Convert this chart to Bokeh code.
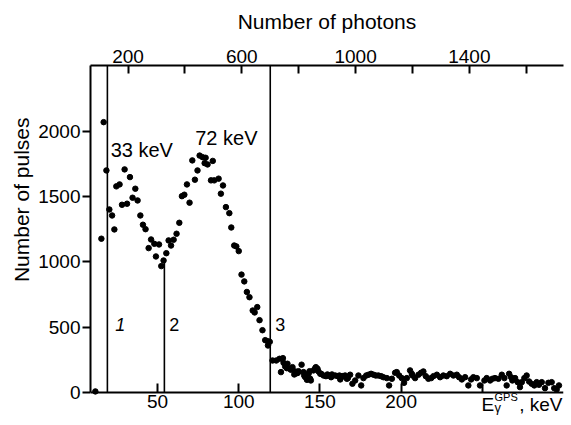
from bokeh.plotting import figure
from bokeh.models import Range1d, LinearAxis, FixedTicker, Label, Title
from bokeh.embed import file_html
from bokeh.resources import INLINE

# ---- data ----
energy_kev = [11.7, 15.4, 16.8, 18.5, 20.3, 22.0, 23.4, 24.6, 26.6, 28.1, 29.7, 31.2, 33.0,
              34.6, 36.3, 37.7, 39.4, 41.0, 42.6, 44.5, 46.0, 48.0, 49.0, 50.9, 52.3, 53.7,
              55.4, 56.8, 58.3, 59.9, 61.7, 63.4, 65.0, 66.5, 68.1, 69.7, 71.4, 73.0, 74.6,
              75.9, 77.7, 79.0, 79.6, 80.8, 82.9, 84.0, 84.9, 87.6, 89.0, 90.3, 92.1, 94.2,
              95.4, 97.2, 98.5, 100.0, 101.7, 103.4, 105.0, 106.6, 108.6, 109.8, 111.4, 112.8,
              114.6, 116.3, 117.8, 118.0, 119.1,
              120.8, 123.1, 125.1, 126.0, 127.2, 127.6, 128.6, 129.6, 130.0, 131.7, 132.1, 133.1,
              134.2, 134.8, 135.8, 136.4, 136.8, 138.7, 139.9, 140.3, 140.9, 142.0, 143.0, 143.6,
              144.0, 144.4, 146.0, 147.1, 147.5, 148.5, 149.1, 150.2, 150.8, 152.2, 153.7, 154.6,
              155.3, 156.9, 157.4, 159.4, 161.0, 162.0, 162.5, 163.9, 164.1, 165.5, 166.6, 167.2,
              168.6, 170.0, 171.7, 173.7, 175.4, 176.8, 178.5, 179.9, 181.5, 183.0, 184.4, 186.0,
              187.7, 189.1, 191.2, 192.6, 194.3, 196.3, 197.3, 198.8, 200.4, 201.8, 203.5, 205.5,
              206.6, 207.0, 208.6, 210.7, 212.3, 213.7, 215.2, 216.8, 218.5, 219.9, 222.0, 224.0,
              226.0, 228.1, 230.2, 232.2, 234.3, 235.7, 237.4, 239.4, 241.4, 243.1, 244.5, 246.6,
              248.6, 251.3, 252.7, 254.8, 256.2, 257.8, 259.9, 262.0, 263.6, 265.0, 266.5, 267.7,
              268.5, 270.2, 271.8, 273.2, 274.3, 275.9, 277.3, 278.8, 280.4, 282.0, 283.5, 284.9,
              286.6, 288.6, 290.7, 292.7, 294.3, 295.8, 297.2]
pulses = [8, 1178, 2071, 1701, 1402, 1356, 1249, 1579, 1594, 1438, 1709, 1446, 1650,
          1492, 1561, 1471, 1356, 1285, 1251, 1106, 1172, 1139, 1042, 1134, 968, 1011,
          1067, 1165, 1126, 1170, 1216, 1300, 1504, 1515, 1594, 1454, 1778, 1630, 1701,
          1815, 1803, 1757, 1798, 1747, 1625, 1774, 1625, 1638, 1523, 1586, 1420, 1374,
          1264, 1126, 1119, 1083, 903, 851, 770, 730, 628, 613, 654, 554,
          477, 401, 393, 360, 388,
          245, 245, 258, 156, 263, 227, 199, 186, 220, 181, 174, 194,
          138, 161, 148, 151, 163, 213, 156, 130, 118, 97, 143, 163,
          105, 92, 169, 186, 194, 182, 161, 143, 143, 130, 125, 138,
          130, 117, 138, 130, 125, 130, 100, 125, 123, 130, 105, 110,
          136, 67, 92, 130, 54, 110, 130, 136, 143, 136, 130, 130,
          125, 117, 110, 54, 105, 151, 156, 130, 110, 74, 110, 169,
          143, 130, 110, 136, 151, 161, 125, 105, 110, 125, 136, 117,
          130, 125, 143, 130, 136, 117, 100, 117, 54, 100, 117, 110,
          54, 92, 110, 92, 105, 110, 105, 136, 110, 54, 143, 117,
          92, 110, 79, 41, 79, 110, 130, 84, 67, 54, 79, 59,
          79, 33, 74, 79, 33, 23, 54]

# window markers (keV) and their upper ends (pulses)
marker_kev = [19.1, 54.2, 119.4]
marker_top = [2505, 1000, 2505]
marker_names = ["1", "2", "3"]
marker_styles = ["italic", "normal", "normal"]

peak_names = ["33 keV", "72 keV"]

bottom_ticks = [50, 100, 150, 200, 250]
left_ticks = [0, 500, 1000, 1500, 2000]
top_ticks = [200, 400, 600, 800, 1000, 1200, 1400, 1600]
top_labels = {200: "200", 400: "", 600: "600", 800: "", 1000: "1000", 1200: "", 1400: "1400", 1600: ""}

FONT = "Liberation Sans"
Y_TOP = 2505

# frame reaches the bottom of the canvas; the energy axis sits at pulses = 0
p = figure(width=571, height=425, output_backend="svg", toolbar_location=None,
           x_range=Range1d(8.7, 300), y_range=Range1d(-253, Y_TOP),
           min_border_left=90, min_border_right=8, min_border_top=65, min_border_bottom=0,
           x_axis_location=None, y_axis_location=None)
p.outline_line_color = None
p.xgrid.visible = False
p.ygrid.visible = False
p.background_fill_color = "white"
p.border_fill_color = "white"

# bottom axis (energy), fixed at pulses = 0
xb = LinearAxis(ticker=FixedTicker(ticks=bottom_ticks), fixed_location=0)
xb.major_label_overrides = {250: ""}
xb.major_tick_in = 9
xb.major_tick_out = 0
xb.minor_tick_line_color = None
xb.axis_line_width = 2
xb.major_tick_line_width = 2
xb.major_label_text_font = FONT
xb.major_label_text_font_size = "19px"
xb.major_label_text_color = "black"
xb.major_label_standoff = 3
p.add_layout(xb, "below")

# left axis (its title is placed separately so it can sit higher, as in the original)
yl = LinearAxis(ticker=FixedTicker(ticks=left_ticks), bounds=(0, Y_TOP))
yl.major_tick_in = 0
yl.major_tick_out = 8
yl.minor_tick_line_color = None
yl.axis_line_width = 2
yl.major_tick_line_width = 2
yl.major_label_text_font = FONT
yl.major_label_text_font_size = "19px"
yl.major_label_text_color = "black"
yl.major_label_standoff = 2
p.add_layout(yl, "left")
p.add_layout(Title(text="Number of pulses", align="right", offset=52, standoff=6,
                   text_font=FONT, text_font_size="21px", text_font_style="normal",
                   text_color="black"), "left")

# top axis (number of photons)
p.extra_x_ranges = {"photons": Range1d(68, 1731)}
xt = LinearAxis(x_range_name="photons", ticker=FixedTicker(ticks=top_ticks),
                axis_label="Number of photons")
xt.major_label_overrides = top_labels
xt.major_tick_in = 8
xt.major_tick_out = 0
xt.minor_tick_line_color = None
xt.axis_line_width = 2
xt.major_tick_line_width = 2
xt.major_label_text_font = FONT
xt.major_label_text_font_size = "19px"
xt.major_label_text_color = "black"
xt.major_label_standoff = 3
xt.axis_label_text_font = FONT
xt.axis_label_text_font_size = "21px"
xt.axis_label_text_font_style = "normal"
xt.axis_label_text_color = "black"
xt.axis_label_standoff = 14
p.add_layout(xt, "above")

# marker lines
p.segment(x0=marker_kev, y0=[0] * len(marker_kev), x1=marker_kev, y1=marker_top,
          line_color="black", line_width=1.6)

# data points
p.scatter(energy_kev, pulses, size=5.5, color="black", marker="circle")

# marker numbers
num_pos_x = [24.0, 57.2, 122.5]
for name, x, st in zip(marker_names, num_pos_x, marker_styles):
    p.add_layout(Label(x=x, y=522, text=name, text_font=FONT, text_font_size="18px",
                       text_font_style=st, text_color="black", text_baseline="alphabetic"))

# peak labels
p.add_layout(Label(x=21.1, y=1859, text=peak_names[0], text_font=FONT, text_font_size="20px",
                   text_color="black", text_baseline="alphabetic"))
p.add_layout(Label(x=73.2, y=1949, text=peak_names[1], text_font=FONT, text_font_size="20px",
                   text_color="black", text_baseline="alphabetic"))

# x-axis label E_gamma^GPS, keV at the 250 position
p.add_layout(Label(x=249.5, y=-92, text="E", text_font=FONT, text_font_size="19px",
                   text_color="black", text_baseline="alphabetic"))
p.add_layout(Label(x=257.5, y=-115, text="γ", text_font=FONT, text_font_size="13px",
                   text_color="black", text_baseline="alphabetic"))
p.add_layout(Label(x=257.5, y=-36, text="GPS", text_font=FONT, text_font_size="11px",
                   text_color="black", text_baseline="alphabetic"))
p.add_layout(Label(x=272.7, y=-92, text=", keV", text_font=FONT, text_font_size="19px",
                   text_color="black", text_baseline="alphabetic"))

open("out.html", "w").write(file_html(p, INLINE))
